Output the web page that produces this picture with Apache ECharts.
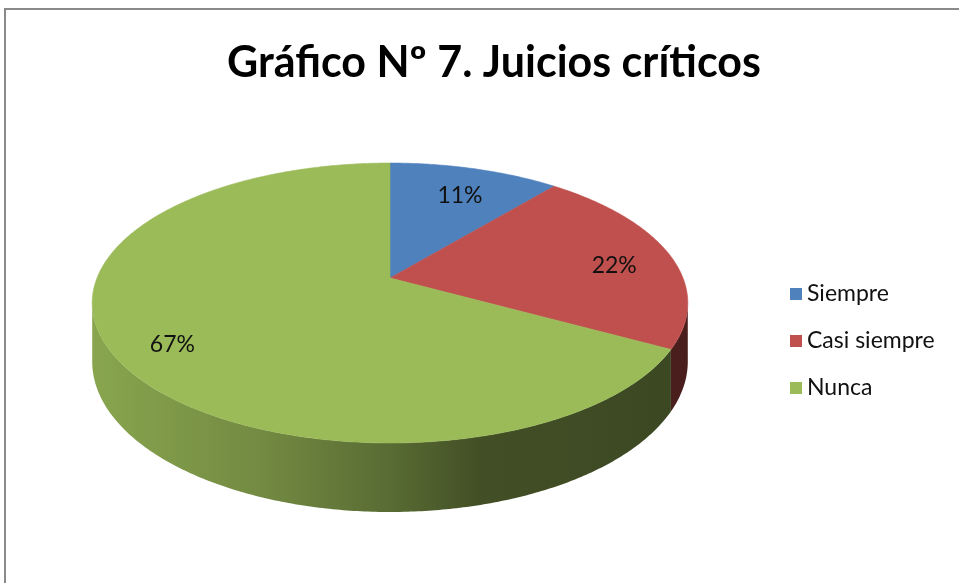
<!DOCTYPE html>
<html><head><meta charset="utf-8">
<script src="https://cdn.jsdelivr.net/npm/echarts@6/dist/echarts.min.js"></script>
<style>html,body{margin:0;padding:0;background:#fff}#c{width:959px;height:583px}</style>
</head><body><div id="c"></div>
<script>
// ---- data ----
const titleText = 'Gráfico Nº 7. Juicios críticos';
const categories = ['Siempre', 'Casi siempre', 'Nunca'];
const values = [11, 22, 67];
const labelTexts = ['11%', '22%', '67%'];
const colors = ['#4F81BD', '#C0504D', '#9BBB59'];

// ---- 3D pie projection (geometry, not data) ----
const CX = 390, CY = 278, A = 293, B = 135.5, P = 0.1786, H = 56.7;
function proj(phi, f, t) {
  const w = 1 + P * f * Math.sin(phi);
  return [CX + A * f * Math.cos(phi) / w, CY + (-B * f * Math.sin(phi) + H * t) / w];
}
function shade(hex, k) {
  const n = parseInt(hex.slice(1), 16);
  const r = Math.round(((n >> 16) & 255) * k), g = Math.round(((n >> 8) & 255) * k), b = Math.round((n & 255) * k);
  return 'rgb(' + r + ',' + g + ',' + b + ')';
}
function arc(a, b, f, t) {
  const pts = [];
  const n = Math.max(2, Math.ceil(Math.abs(b - a) / 0.01));
  for (let i = 0; i <= n; i++) pts.push(proj(a + (b - a) * i / n, f, t));
  return pts;
}
const total = values.reduce((s, v) => s + v, 0);
const cum = [0];
values.forEach((v, i) => cum.push(cum[i] + v));
const delta = Math.asin(P);
const visLo = -Math.PI + delta, visHi = -delta;

function renderItem(params, api) {
  const i = params.dataIndex;
  const a = Math.PI / 2 - 2 * Math.PI * cum[i] / total;     // start (larger)
  const b = Math.PI / 2 - 2 * Math.PI * cum[i + 1] / total; // end (smaller)
  const children = [];
  // front wall
  [0, -2 * Math.PI, 2 * Math.PI].forEach(shift => {
    const lo = Math.max(b, visLo + shift), hi = Math.min(a, visHi + shift);
    if (hi > lo) {
      const topRim = arc(lo, hi, 1, 0);
      const botRim = arc(hi, lo, 1, 1);
      const base = colors[i];
      children.push({
        type: 'polygon', z2: 1,
        shape: { points: topRim.concat(botRim) },
        style: {
          fill: {
            type: 'linear', x: 95, y: 0, x2: 690, y2: 0, global: true,
            colorStops: [
              { offset: 0, color: shade(base, 0.88) },
              { offset: 0.28, color: shade(base, 0.74) },
              { offset: 0.5, color: shade(base, 0.57) },
              { offset: 0.64, color: shade(base, 0.43) },
              { offset: 1, color: shade(base, 0.38) }
            ]
          },
          stroke: null
        }
      });
    }
  });
  // top face
  const pts = [proj(0, 0, 0)].concat(arc(a, b, 1, 0));
  children.push({
    type: 'polygon', z2: 10,
    shape: { points: pts },
    style: { fill: colors[i], stroke: colors[i], lineWidth: 0.6 }
  });
  // label
  const mid = (a + b) / 2;
  const lp = proj(mid, 0.8, 0);
  children.push({
    type: 'text', z2: 20,
    x: lp[0], y: lp[1] + 7,
    style: {
      text: labelTexts[i], fill: '#111', font: '23px Lato',
      align: 'center', verticalAlign: 'middle'
    }
  });
  return { type: 'group', children: children };
}

const chart = echarts.init(document.getElementById('c'), null, { renderer: 'canvas' });
chart.setOption({
  animation: false,
  color: colors,
  title: {
    text: titleText, left: 489, top: 37, textAlign: 'center',
    textStyle: { fontFamily: 'Lato', fontWeight: 'bold', fontSize: 43, color: '#000' }
  },
  legend: {
    orient: 'vertical', left: 785, top: 277,
    itemWidth: 12, itemHeight: 12, itemGap: 23, icon: 'rect',
    data: categories,
    textStyle: { fontFamily: 'Lato', fontSize: 23, lineHeight: 24, color: '#111', padding: [0, 0, 0, 0] }
  },
  graphic: [{
    type: 'rect', z: -10, silent: true,
    shape: { x: 5, y: 9, width: 1200, height: 1200 },
    style: { fill: '#fff', stroke: '#8a8a8a', lineWidth: 2 }
  }],
  series: [
    {
      type: 'custom', coordinateSystem: 'none', renderItem: renderItem,
      data: values, silent: true
    },
    {
      type: 'pie', radius: 0, center: [-100, -100], silent: true,
      label: { show: false }, labelLine: { show: false },
      data: categories.map((c, i) => ({ name: c, value: values[i] }))
    }
  ]
});
</script>
</body></html>
